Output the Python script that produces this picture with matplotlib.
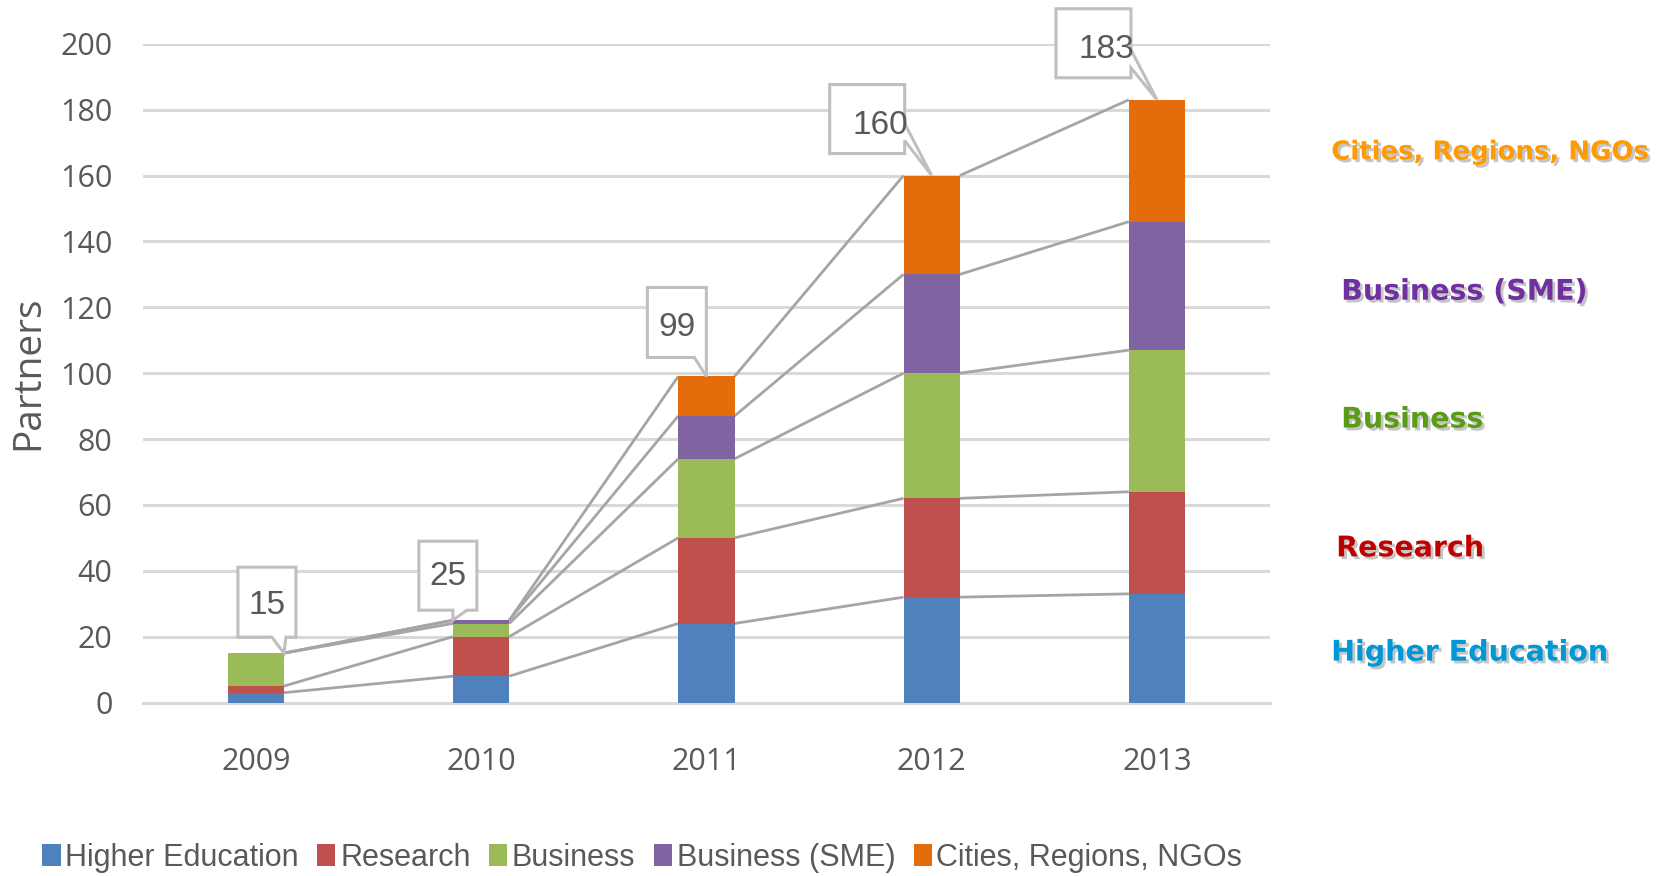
import matplotlib
matplotlib.use("Agg")
import matplotlib.pyplot as plt
import matplotlib.patheffects as pe
from matplotlib import transforms
from matplotlib.patches import Patch, Polygon

# datos
years = ['2009', '2010', '2011', '2012', '2013']
higher_ed = [3, 8, 24, 32, 33]
research = [2, 12, 26, 30, 31]
business = [10, 4, 24, 38, 43]
sme = [0, 1, 13, 30, 39]
cities = [0, 0, 12, 30, 37]
names = ['Higher Education', 'Research', 'Business', 'Business (SME)', 'Cities, Regions, NGOs']
colors = ['#4F81BD', '#C0504D', '#9BBB59', '#8064A2', '#E46C0A']

plt.rcParams['font.family'] = ['Open Sans', 'DejaVu Sans']
grey_txt = '#595959'
narrow = ['Liberation Sans', 'DejaVu Sans']

fig = plt.figure(figsize=(16.64, 8.76), dpi=100)
ax = fig.add_axes([0.086, 0.198, 0.677, 0.752])

series = [higher_ed, research, business, sme, cities]
x = list(range(len(years)))
w = 0.25
bottom = [0] * len(years)
tops = []
for vals, c, n in zip(series, colors, names):
    ax.bar(x, vals, w, bottom=bottom, color=c, label=n, zorder=3, linewidth=0)
    bottom = [b + v for b, v in zip(bottom, vals)]
    tops.append(list(bottom))

# lineas de serie (borde derecho -> borde izquierdo de la siguiente barra)
for t in tops:
    for i in range(len(years) - 1):
        ax.plot([i + w / 2, i + 1 - w / 2], [t[i], t[i + 1]], color='#A5A5A5',
                lw=2.0, zorder=2, solid_capstyle='butt')

totals = tops[-1]

# llamadas con el total: (desplazamiento de la punta, contorno en px relativo a la punta)
tip_dx = [w / 2, -w / 2, 0, 0, 0]
shapes = [
    [(-46, 16), (-12, 16), (0, 0), (2, 16), (12, 16), (12, 86), (-46, 86)],
    [(-34, 10), (0, 10), (0, 0), (14, 10), (24, 10), (24, 79), (-34, 79)],
    [(-59, 19), (-12, 19), (0, 0), (0, 19), (0, 89), (-59, 89)],
    [(-102, 22), (-27, 22), (-27, 35), (0, 0), (-27, 52), (-27, 91), (-102, 91)],
    [(-101, 22), (-26, 22), (-26, 32), (0, 0), (-26, 50), (-26, 91), (-101, 91)],
]
for i, (tot, dx, verts) in enumerate(zip(totals, tip_dx, shapes)):
    tr = fig.dpi_scale_trans + transforms.ScaledTranslation(i + dx, tot, ax.transData)
    poly = Polygon([(a / 100, b / 100) for a, b in verts], closed=True,
                   facecolor='white', edgecolor='#BFBFBF', lw=2.2,
                   transform=tr, zorder=5, clip_on=False)
    ax.add_patch(poly)
    xs = [v[0] for v in verts]
    ys = [v[1] for v in verts]
    cx = (min(xs) + max(xs)) / 2
    cy = (min(ys) + max(ys)) / 2
    ax.annotate(str(tot), xy=(i + dx, tot), xytext=(cx, cy - 4), textcoords='offset pixels',
                ha='center', va='baseline', fontsize=24, color=grey_txt,
                family=narrow, zorder=6, annotation_clip=False)

ax.set_xlim(-0.5, len(years) - 0.5)
ax.set_ylim(0, 200)
ax.set_yticks(range(0, 201, 20))
ax.set_xticks(x)
ax.set_xticklabels(years)
ax.yaxis.grid(True, color='#D9D9D9', lw=2.2, zorder=0)
ax.set_axisbelow(True)
for s in ['top', 'right', 'left']:
    ax.spines[s].set_visible(False)
ax.spines['bottom'].set_color('#D9D9D9')
ax.spines['bottom'].set_linewidth(2.2)
ax.tick_params(axis='y', length=0, pad=22, labelsize=22, labelcolor=grey_txt)
ax.tick_params(axis='x', length=0, pad=32, labelsize=22, labelcolor=grey_txt)
fig.text(0.017, 0.575, 'Partners', rotation=90, ha='center', va='center',
         fontsize=28, color=grey_txt)

# etiquetas a la derecha
side = [('Cities, Regions, NGOs', '#FF9A00', 0.800, 0.826, 18.7),
        ('Business (SME)', '#7030A0', 0.806, 0.667, 20.5),
        ('Business', '#5B9B17', 0.806, 0.521, 20.5),
        ('Research', '#C00000', 0.803, 0.374, 20.5),
        ('Higher Education', '#0097D7', 0.800, 0.255, 20.5)]
for txt, c, fx, fy, fs in side:
    fig.text(fx, fy, txt, color=c, fontsize=fs, fontweight='bold', va='center',
             family=['DejaVu Sans'],
             path_effects=[pe.SimplePatchShadow(offset=(2, -2), shadow_rgbFace='#808080', alpha=0.45),
                           pe.Normal()])

handles = [Patch(facecolor=c, label=n) for c, n in zip(colors, names)]
leg = fig.legend(handles=handles, loc='center', bbox_to_anchor=(0.386, 0.021), ncol=5,
                 frameon=False, handlelength=0.6, handleheight=0.75, handletextpad=0.15,
                 columnspacing=0.6, prop={'family': narrow, 'size': 22})
for t in leg.get_texts():
    t.set_color(grey_txt)

fig.savefig('out.png', dpi=100)
